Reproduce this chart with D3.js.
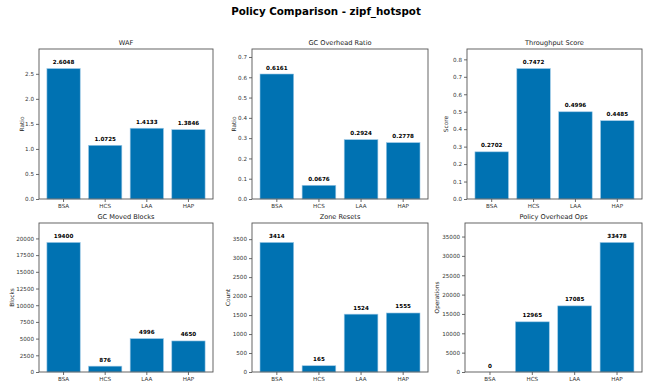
<!DOCTYPE html>
<html><head><meta charset="utf-8">
<script src="https://cdn.jsdelivr.net/npm/d3@7"></script>
<style>body{margin:0;background:#fff}svg{display:block}text{font-family:"DejaVu Sans",sans-serif}</style>
</head><body><svg id="c" width="654" height="391"></svg>
<script>
const policies = ["BSA", "HCS", "LAA", "HAP"];
const wafValues = [2.6048, 1.0725, 1.4133, 1.3846];
const gcOverheadValues = [0.6161, 0.0676, 0.2924, 0.2778];
const throughputValues = [0.2702, 0.7472, 0.4996, 0.4485];
const gcMovedValues = [19400, 876, 4996, 4650];
const zoneResetValues = [3414, 165, 1524, 1555];
const overheadOpsValues = [0, 12965, 17085, 33478];
const panelTitles = ["WAF", "GC Overhead Ratio", "Throughput Score", "GC Moved Blocks", "Zone Resets", "Policy Overhead Ops"];
const yLabels = ["Ratio", "Ratio", "Score", "Blocks", "Count", "Operations"];
const yTicks = [
  [0, 0.5, 1.0, 1.5, 2.0, 2.5],
  [0, 0.1, 0.2, 0.3, 0.4, 0.5, 0.6, 0.7],
  [0, 0.1, 0.2, 0.3, 0.4, 0.5, 0.6, 0.7, 0.8],
  [0, 2500, 5000, 7500, 10000, 12500, 15000, 17500, 20000],
  [0, 500, 1000, 1500, 2000, 2500, 3000, 3500],
  [0, 5000, 10000, 15000, 20000, 25000, 30000, 35000]
];
const valueFormats = [".4f", ".4f", ".4f", "d", "d", "d"];
const tickFormats = [".1f", ".1f", ".1f", "d", "d", "d"];
const series = [wafValues, gcOverheadValues, throughputValues, gcMovedValues, zoneResetValues, overheadOpsValues];
const yMaxFactor = [1.15, 1.2, 1.15, 1.15, 1.15, 1.15];

// layout
const boxes = [
  {x0: 39, x1: 213, y0: 49, y1: 199, yl: 22},
  {x0: 252, x1: 428, y0: 49, y1: 199, yl: 234},
  {x0: 467, x1: 642, y0: 49, y1: 199, yl: 446},
  {x0: 39, x1: 213, y0: 223, y1: 372, yl: 12},
  {x0: 252, x1: 428, y0: 223, y1: 372, yl: 228},
  {x0: 465, x1: 642, y0: 223, y1: 372, yl: 437}
];

const svg = d3.select("#c");
svg.append("text").attr("x", 326).attr("y", 14.5).attr("text-anchor", "middle")
  .attr("font-size", 10.3).attr("font-weight", "bold").attr("fill", "#000")
  .text("Policy Comparison - zipf_hotspot");

series.forEach((vals, i) => {
  const b = boxes[i];
  const x = d3.scaleBand().domain(policies).range([b.x0, b.x1]).paddingInner(0.2).paddingOuter(0.19);
  const y = d3.scaleLinear().domain([0, d3.max(vals) * yMaxFactor[i]]).range([b.y1, b.y0]);
  const g = svg.append("g");

  g.selectAll("rect").data(vals).join("rect")
    .attr("x", (d, j) => x(policies[j]))
    .attr("y", d => y(d))
    .attr("width", x.bandwidth())
    .attr("height", d => y(0) - y(d))
    .attr("fill", "#0072b2")
    .attr("stroke", "#9cc8e6").attr("stroke-width", 0.6);

  g.selectAll("text.val").data(vals).join("text").attr("class", "val")
    .attr("x", (d, j) => x(policies[j]) + x.bandwidth() / 2)
    .attr("y", d => y(d) - 4.5)
    .attr("text-anchor", "middle").attr("font-size", 5.6).attr("font-weight", "bold").attr("fill", "#000")
    .text(d => d3.format(valueFormats[i])(d));

  const ya = g.append("g").attr("transform", `translate(${b.x0},0)`)
    .call(d3.axisLeft(y).tickValues(yTicks[i]).tickFormat(d3.format(tickFormats[i])).tickSize(3).tickPadding(2));
  const xa = g.append("g").attr("transform", `translate(0,${b.y1})`)
    .call(d3.axisBottom(x).tickSize(3).tickPadding(2));
  [ya, xa].forEach(a => {
    a.select(".domain").remove();
    a.selectAll("line").attr("stroke", "#444").attr("stroke-width", 0.8);
    a.selectAll("text").attr("font-size", 5.6).attr("fill", "#333").attr("font-family", "DejaVu Sans");
  });

  g.append("rect").attr("x", b.x0).attr("y", b.y0).attr("width", b.x1 - b.x0).attr("height", b.y1 - b.y0)
    .attr("fill", "none").attr("stroke", "#555").attr("stroke-width", 0.9);

  g.append("text").attr("x", (b.x0 + b.x1) / 2).attr("y", b.y0 - 4).attr("text-anchor", "middle")
    .attr("font-size", 6.6).attr("fill", "#222").text(panelTitles[i]);

  g.append("text").attr("transform", `translate(${b.yl},${(b.y0 + b.y1) / 2}) rotate(-90)`)
    .attr("text-anchor", "middle").attr("dy", "0.35em").attr("font-size", 5.8).attr("fill", "#222").text(yLabels[i]);
});
</script></body></html>
